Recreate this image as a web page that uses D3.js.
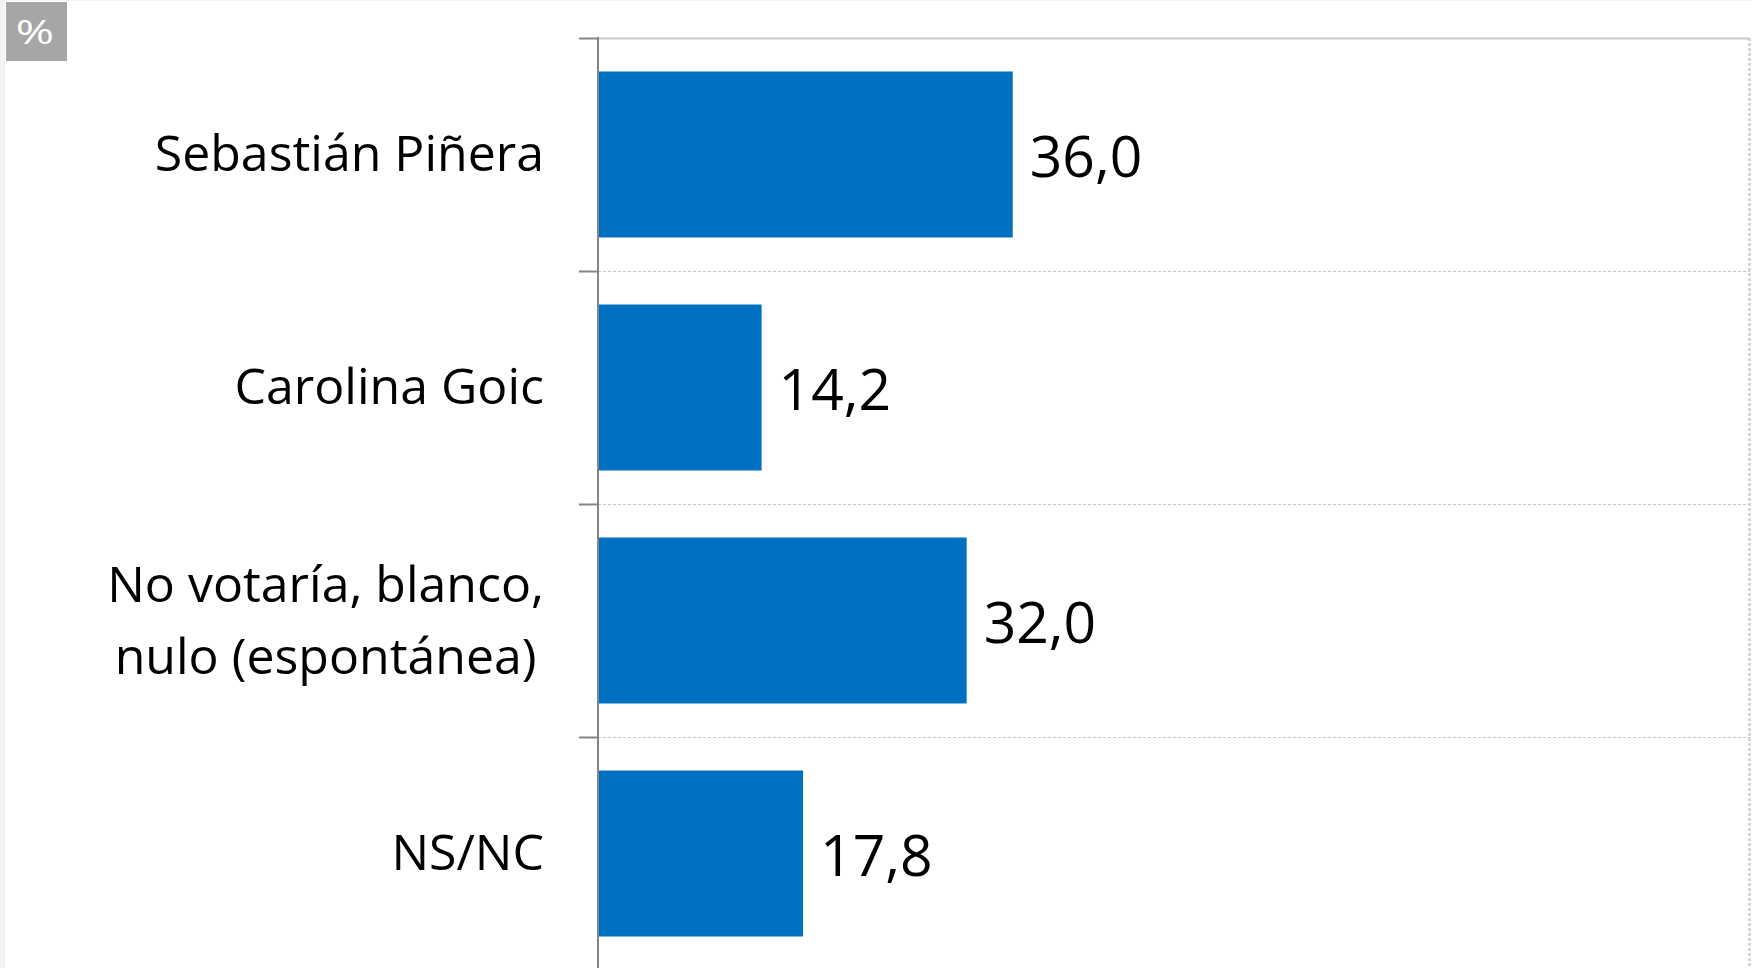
<!DOCTYPE html>
<html>
<head>
<meta charset="utf-8">
<script src="https://cdn.jsdelivr.net/npm/d3@7/dist/d3.min.js"></script>
<style>
  html, body { margin: 0; padding: 0; background: #ffffff; }
  svg { display: block; }
</style>
</head>
<body>
<svg id="chart" width="1752" height="968"></svg>
<script>
// Survey results, in percent
const categories = [
  ["Sebastián Piñera"],
  ["Carolina Goic"],
  ["No votaría, blanco,", "nulo (espontánea)"],
  ["NS/NC"]
];
const values = [36.0, 14.2, 32.0, 17.8];
const valueLabels = ["36,0", "14,2", "32,0", "17,8"];
const unitLabel = "%";

const W = 1752, H = 968;
const plot = { left: 598, right: 1750, top: 38, bottom: 970 };

const svg = d3.select("#chart");

const x = d3.scaleLinear().domain([0, 100]).range([plot.left, plot.right]);
const keys = categories.map((c, i) => i);
const yBand = d3.scaleBand().domain(keys).range([plot.top, plot.bottom])
  .paddingInner(0.2876).paddingOuter(0.1438);
const yCell = d3.scaleBand().domain(keys).range([plot.top, plot.bottom]).padding(0);

// faint frame at the left edge
svg.append("rect").attr("x", 0).attr("y", 0).attr("width", 5).attr("height", H).attr("fill", "#f3f3f3");
svg.append("rect").attr("x", 0).attr("y", 0).attr("width", W).attr("height", 1).attr("fill", "#f5f5f5");

// gridlines between categories
const grid = svg.append("g");
grid.append("line")
  .attr("x1", plot.left).attr("x2", plot.right)
  .attr("y1", plot.top + 0.5).attr("y2", plot.top + 0.5)
  .attr("stroke", "#c8c8c8").attr("stroke-width", 2);
grid.selectAll("line.h").data(keys.slice(1)).join("line")
  .attr("class", "h")
  .attr("x1", plot.left).attr("x2", plot.right)
  .attr("y1", d => yCell(d) + 0.5).attr("y2", d => yCell(d) + 0.5)
  .attr("stroke", "#c6c6c6").attr("stroke-width", 1)
  .attr("stroke-dasharray", "3,2");
grid.append("line")
  .attr("x1", plot.right - 0.5).attr("x2", plot.right - 0.5)
  .attr("y1", plot.top).attr("y2", H)
  .attr("stroke", "#c6c6c6").attr("stroke-width", 2)
  .attr("stroke-dasharray", "3,2");

// bars
svg.append("g").selectAll("rect").data(values).join("rect")
  .attr("x", x(0) + 1)
  .attr("y", (d, i) => yBand(i))
  .attr("width", d => x(d) - x(0) - 1)
  .attr("height", yBand.bandwidth())
  .attr("fill", "#0070C0");

// vertical axis with ticks at category boundaries
const axis = svg.append("g");
axis.append("line")
  .attr("x1", plot.left).attr("x2", plot.left)
  .attr("y1", plot.top - 1).attr("y2", H)
  .attr("stroke", "#858585").attr("stroke-width", 2);
axis.selectAll("line.t").data(keys).join("line")
  .attr("class", "t")
  .attr("x1", plot.left - 19).attr("x2", plot.left)
  .attr("y1", d => yCell(d) + 0.5).attr("y2", d => yCell(d) + 0.5)
  .attr("stroke", "#858585").attr("stroke-width", 2);

// category labels
const textFont = "'Open Sans', Lato, sans-serif";
const labels = svg.append("g")
  .attr("font-family", textFont).attr("font-size", 50).attr("fill", "#000");
categories.forEach((lines, i) => {
  const cy = yCell(i) + yCell.bandwidth() / 2;
  if (lines.length === 1) {
    labels.append("text")
      .attr("x", 544).attr("y", cy + 16)
      .attr("text-anchor", "end")
      .text(lines[0]);
  } else {
    const g = labels.append("g");
    const t = lines.map((s, k) => g.append("text")
      .attr("y", cy - 19 + k * 72)
      .attr("text-anchor", "middle")
      .text(s));
    const wMax = d3.max(t, n => n.node().getComputedTextLength());
    t.forEach(n => n.attr("x", 544 - wMax / 2));
  }
});

// value labels
svg.append("g").selectAll("text").data(values).join("text")
  .attr("x", d => x(d) + 17)
  .attr("y", (d, i) => yCell(i) + yCell.bandwidth() / 2 + 22)
  .attr("font-family", textFont).attr("font-size", 57).attr("fill", "#000")
  .text((d, i) => valueLabels[i]);

// unit badge
svg.append("rect").attr("x", 6).attr("y", 2).attr("width", 61).attr("height", 59).attr("fill", "#a6a6a6");
svg.append("text")
  .attr("transform", "translate(35,44) scale(1.45,1)")
  .attr("text-anchor", "middle")
  .attr("font-family", textFont).attr("font-size", 32)
  .attr("fill", "#ffffff").text(unitLabel);
</script>
</body>
</html>
